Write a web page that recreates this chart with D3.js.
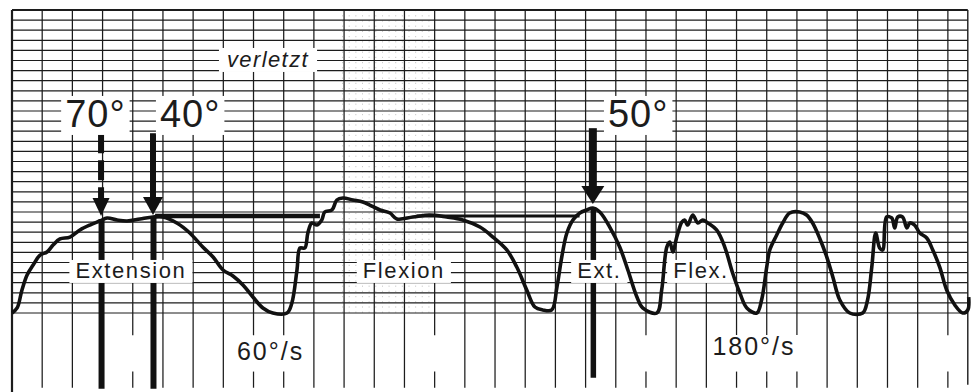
<!DOCTYPE html>
<html>
<head>
<meta charset="utf-8">
<script src="https://cdn.jsdelivr.net/npm/d3@7"></script>
<style>
  html, body { margin: 0; background: #fff; }
  svg { display: block; }
  text { font-family: "Liberation Sans", Arial, sans-serif; fill: #1c1c1c; }
</style>
</head>
<body>
<svg id="chart" width="980" height="392"></svg>
<script>
// recorder trace: time in chart divisions, amplitude in small divisions
const traceT = [0, 0.17, 0.33, 0.5, 0.7, 0.93, 1.16, 1.36, 1.59, 1.92, 2.25, 2.58, 2.91, 3.15, 3.48, 3.81, 4.24, 4.67, 5.0,
  5.46, 5.89, 6.32, 6.66, 6.99, 7.32, 7.65, 7.98, 8.31, 8.64, 9.11, 9.27, 9.44, 9.54, 9.7, 9.8, 9.93, 10.1, 10.26, 10.36,
  10.6, 10.76, 10.96, 11.29, 11.62, 11.85, 12.19, 12.52, 12.75, 13.28, 13.84, 14.4, 14.93, 15.5, 15.93, 16.39, 16.72,
  17.05, 17.32, 17.58, 17.88, 18.05, 18.21, 18.38, 18.58, 18.81, 19.04, 19.24, 19.47, 19.8, 20.13, 20.4, 20.7, 20.89,
  21.36, 21.52, 21.69, 21.79, 21.89, 22.02, 22.19, 22.28, 22.38, 22.55, 22.72, 22.88, 23.05, 23.34, 23.61, 23.87, 24.11,
  24.34, 24.67, 24.83, 25.0, 25.1, 25.33, 25.53, 25.76, 26.09, 26.32, 26.52, 26.75, 26.99, 27.19, 27.42, 27.75, 28.18,
  28.34, 28.48, 28.61, 28.74, 28.84, 28.97, 29.14, 29.24, 29.34, 29.5, 29.64, 29.74, 29.9, 30.07, 30.3, 30.5, 30.73,
  30.96, 31.23, 31.49, 31.66, 31.69];
const traceAmp = [0, 0.5, 2.28, 3.76, 4.75, 5.74, 6.04, 6.73, 7.33, 7.52, 8.22, 8.71, 9.11, 9.41, 9.21, 9.11, 9.31, 9.5, 9.5,
  8.91, 7.92, 6.53, 5.54, 4.26, 3.66, 2.77, 1.58, 0.5, 0, 0, 0.99, 4.26, 6.44, 6.44, 7.92, 8.91, 8.71, 9.21, 10.0,
  10.2, 11.19, 11.39, 11.19, 10.99, 10.69, 10.2, 9.9, 9.31, 9.5, 9.7, 9.5, 9.21, 8.51, 7.52, 6.24, 4.55,
  2.28, 0.59, 0.3, 0.3, 2.57, 5.54, 7.92, 9.21, 9.9, 10.2, 10.4, 10.0, 8.51, 6.53, 4.26, 1.58, 0.5,
  0, 2.28, 6.53, 7.03, 6.04, 7.52, 9.01, 9.21, 8.71, 9.7, 8.91, 9.21, 8.91, 8.22, 6.53, 3.96, 1.98,
  0.5, 0, 1.29, 4.55, 6.24, 7.72, 8.91, 9.9, 10.0, 9.7, 8.91, 7.43, 5.54, 3.56, 1.29, 0, 0,
  1.29, 4.55, 7.92, 6.44, 6.24, 9.5, 9.41, 8.42, 9.5, 9.5, 8.42, 8.91, 8.71, 7.92, 7.43, 6.24, 4.55,
  2.28, 0.79, 0, 0.3, 1.58];

// angle markers
const markerLabels = ["70°", "40°", "50°"];
const markerT = [2.95, 4.67, 19.24];
const markerTip = [9.6, 9.7, 10.8];

// reference level drawn from the 40° point and back at the 50° point
const refLevel = 9.6;
const refSpans = [[4.74, 10.2], [13.4, 18.8]];

const phaseLabels = ["Extension", "Flexion", "Ext.", "Flex."];
const phaseT = [2.1, 11.62, 18.72, 21.9];
const speedLabels = ["60°/s", "180°/s"];
const speedT = [7.45, 23.2];
const noteLabel = "verletzt";

// divisions whose lower part below the trace is broken on the paper
const brokenDivs = [4, 8, 9, 14, 21, 24, 25, 26, 31];

const svg = d3.select("#chart");
const x = d3.scaleLinear().domain([0, 31.7]).range([12, 969]);
const y = d3.scaleLinear().domain([0, 30]).range([313, 10]);
const ink = "#1c1c1c";

const grid = svg.append("g");
const layerLines = svg.append("g");
const layerBoxes = svg.append("g");
const layerTrace = svg.append("g");
const layerText = svg.append("g");

// faint dotted texture in the middle of the paper
grid.selectAll("line.dot")
  .data(d3.range(10.95, 13.9, 0.22))
  .join("line")
  .attr("x1", d => x(d)).attr("x2", d => x(d))
  .attr("y1", y(30)).attr("y2", y(0))
  .attr("stroke", "#8a8a8a").attr("stroke-width", 0.8)
  .attr("stroke-dasharray", "1.2 4").attr("opacity", 0.55);

// horizontal grid
grid.selectAll("line.h")
  .data(d3.range(0, 31))
  .join("line")
  .attr("x1", x(0)).attr("x2", x(31.66))
  .attr("y1", d => y(d)).attr("y2", d => y(d))
  .attr("stroke", ink).attr("stroke-width", d => d === 30 ? 2.2 : 1.2);

// vertical grid, running on below the baseline
const vdivs = d3.range(1, 32);
grid.selectAll("line.v")
  .data(vdivs)
  .join("line")
  .attr("x1", d => x(d)).attr("x2", d => x(d))
  .attr("y1", y(30))
  .attr("y2", d => brokenDivs.includes(d) ? y(-2.2) : y(-7.4))
  .attr("stroke", ink).attr("stroke-width", 1.25);
grid.selectAll("line.vb")
  .data(vdivs.filter(d => brokenDivs.includes(d)))
  .join("line")
  .attr("x1", d => x(d)).attr("x2", d => x(d))
  .attr("y1", y(-5.8)).attr("y2", y(-7.4))
  .attr("stroke", ink).attr("stroke-width", 1.25);

// borders
grid.append("line").attr("x1", x(0)).attr("x2", x(0)).attr("y1", y(30)).attr("y2", 392)
  .attr("stroke", ink).attr("stroke-width", 2.2);
grid.append("line").attr("x1", x(31.66)).attr("x2", x(31.66)).attr("y1", y(30)).attr("y2", y(-7.1))
  .attr("stroke", ink).attr("stroke-width", 1.4);

// reference level lines
layerLines.selectAll("line.ref")
  .data(refSpans)
  .join("line")
  .attr("x1", d => x(d[0])).attr("x2", d => x(d[1]))
  .attr("y1", y(refLevel)).attr("y2", y(refLevel))
  .attr("stroke", "#111").attr("stroke-width", (d, i) => i === 0 ? 4.5 : 3);

// arrows and the vertical cuts under them
const markerTop = [17.8, 17.8, 18.3];
const markerBottom = [-7.5, -7.5, -6.4];
const headW = [17, 20, 23];
const shaftW = [6, 6, 8];
markerT.forEach((t, i) => {
  const cx = x(t);
  const tip = y(markerTip[i]);
  const headH = 18;
  layerLines.append("line")
    .attr("x1", cx).attr("x2", cx)
    .attr("y1", y(markerTop[i])).attr("y2", tip - headH + 2)
    .attr("stroke", "#111").attr("stroke-width", shaftW[i])
    .attr("stroke-dasharray", i === 0 ? "20 7" : null);
  layerLines.append("path")
    .attr("d", `M${cx - headW[i] / 2},${tip - headH} L${cx + headW[i] / 2},${tip - headH} L${cx},${tip} Z`)
    .attr("fill", "#111");
  layerLines.append("line")
    .attr("x1", cx + 0.5).attr("x2", cx + 0.5)
    .attr("y1", tip + 3).attr("y2", y(markerBottom[i]))
    .attr("stroke", "#111").attr("stroke-width", i === 2 ? 5.5 : 6);
});

// trace
const line = d3.line()
  .x((d, i) => x(traceT[i]))
  .y(d => y(d))
  .curve(d3.curveCatmullRom.alpha(0.5));
layerTrace.append("path")
  .datum(traceAmp)
  .attr("d", line)
  .attr("fill", "none")
  .attr("stroke", "#111")
  .attr("stroke-width", 3.6)
  .attr("stroke-linejoin", "round");

// labels sitting on white patches of paper
function label(txt, t, amp, size, opts = {}) {
  const el = layerText.append("text")
    .attr("x", x(t)).attr("y", y(amp))
    .attr("font-size", size)
    .attr("letter-spacing", opts.spacing || 0)
    .attr("font-style", opts.italic ? "italic" : null)
    .text(txt);
  const b = el.node().getBBox();
  const px = opts.padX || 6, py = opts.padY || 1;
  layerBoxes.append("rect")
    .attr("x", b.x - px).attr("y", b.y + py)
    .attr("width", b.width + px * 2).attr("height", b.height - py)
    .attr("fill", "#fff");
}

markerLabels.forEach((s, i) => {
  const start = [1.76, 4.9, 19.74][i];
  label(s, start, 18.42, 38, { spacing: 1, padX: 4, padY: 3 });
});
label(noteLabel, 7.12, 24.36, 22, { italic: true, spacing: 1.4, padX: 8, padY: 0 });
phaseLabels.forEach((s, i) => label(s, phaseT[i], 3.47, 22, { spacing: 1.6, padX: 6, padY: 2 }));
speedLabels.forEach((s, i) => label(s, speedT[i], [-4.65, -4.16][i], 25, { spacing: 2, padX: 5, padY: 3 }));
</script>
</body>
</html>
